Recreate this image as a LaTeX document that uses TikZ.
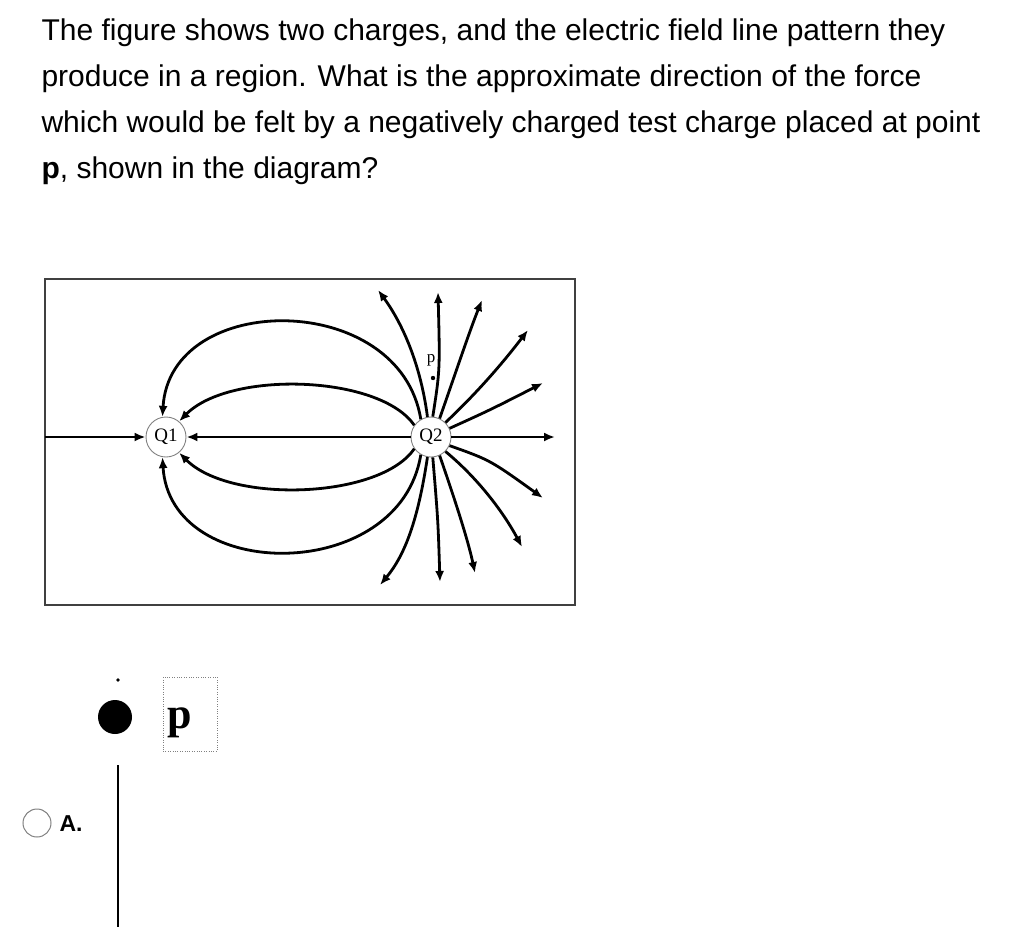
\documentclass[tikz,border=0pt]{standalone}
\usepackage{fontspec}
\setmainfont{Liberation Sans}
\newfontfamily\serifx{Liberation Serif}
\usetikzlibrary{arrows.meta}
\begin{document}
\begin{tikzpicture}[x=1pt,y=-1pt,
  qtext/.style={anchor=base west,font=\fontsize{30}{32}\selectfont},
  charge/.style={circle,draw=gray,line width=0.9pt,minimum size=40pt,inner sep=0pt,font=\serifx\fontsize{19}{20}\selectfont},
  fl/.style={line width=2.8pt,-{Latex[length=11pt,width=9pt]}}]
\useasboundingbox (0,0) rectangle (1024,927);
\node[qtext] (t1) at (38,40) {The figure shows two charges, and the electric field line pattern they};
\node[qtext] (t2) at (38,86) {produce in a region. What is the approximate direction of the force};
\node[qtext] (t3) at (38,132) {which would be felt by a negatively charged test charge placed at point};
\node[qtext] (t4) at (38,178) {\textbf{p}, shown in the diagram?};
\draw[line width=2pt,draw=black!75] (45,279) rectangle (575,605);
\node[charge] (Q1) at (166,437) {Q1};
\node[charge] (Q2) at (431,437) {Q2};
\coordinate (L) at (45,437);
\draw[fl] (L) -- (Q1.west);
\draw[fl] (Q2.west) -- (Q1.east);
% arcs Q2 -> Q1
\draw[fl] (Q2.120) .. controls (400,290) and (170,290) .. (Q1.100);
\draw[fl] (Q2.145) .. controls (380,375) and (230,370) .. (Q1.50);
\draw[fl] (Q2.240) .. controls (400,584) and (170,584) .. (Q1.260);
\draw[fl] (Q2.215) .. controls (380,499) and (230,504) .. (Q1.310);
% outward lines
\coordinate (e1) at (378,290); \coordinate (e2) at (438,292); \coordinate (e3) at (482,300);
\coordinate (e4) at (528,330); \coordinate (e5) at (543,383); \coordinate (e6) at (555,437);
\coordinate (f1) at (380,585); \coordinate (f2) at (440,582); \coordinate (f3) at (475,573);
\coordinate (f4) at (522,547); \coordinate (f5) at (543,498);
\draw[fl] (Q2.100) .. controls (420,360) and (400,320) .. (e1);
\draw[fl] (Q2.85) .. controls (440,370) .. (e2);
\draw[fl] (Q2.65) .. controls (460,360) and (470,330) .. (e3);
\draw[fl] (Q2.45) .. controls (480,390) and (505,360) .. (e4);
\draw[fl] (Q2.25) .. controls (490,410) .. (e5);
\draw[fl] (Q2.east) -- (e6);
\draw[fl] (Q2.260) .. controls (418,520) and (405,555) .. (f1);
\draw[fl] (Q2.275) .. controls (438,520) .. (f2);
\draw[fl] (Q2.295) .. controls (455,500) and (468,540) .. (f3);
\draw[fl] (Q2.315) .. controls (480,480) and (505,515) .. (f4);
\draw[fl] (Q2.335) .. controls (490,460) .. (f5);
\fill (433,378) circle (2.2pt);
\node[font=\serifx\fontsize{17}{18}\selectfont] (plab) at (431,360) {p};
% answer option
\fill (118,680) circle (1.8pt);
\node[circle,fill=black,minimum size=34pt,inner sep=0pt] (dot) at (115,717) {};
\node[draw=gray,dotted,minimum width=54pt,minimum height=74pt,inner sep=0pt] (pbox) at (190,714) {};
\node[font=\serifx\bfseries\fontsize{44}{46}\selectfont,anchor=base] (pb) at (180,728) {p};
\coordinate (vt) at (118,765); \coordinate (vb) at (118,927);
\draw[line width=2.6pt] (vt) -- (vb);
\node[circle,draw=gray,line width=1pt,minimum size=28pt,inner sep=0pt] (radio) at (37,823) {};
\node[anchor=west,font=\bfseries\fontsize{23}{24}\selectfont] (A) at (56,824) {A.};
\end{tikzpicture}
\end{document}
